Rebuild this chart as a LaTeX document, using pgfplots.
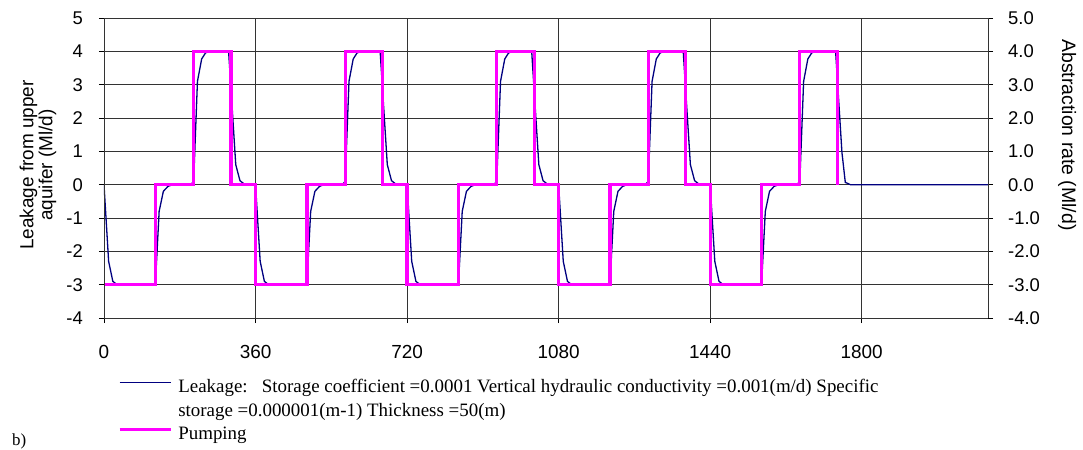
\documentclass[border=0pt]{standalone}
\usepackage{pgfplots}
\pgfplotsset{compat=1.18}
\usepackage{fontspec}
\setmainfont{Liberation Sans}
\newfontfamily\timesfont{Liberation Serif}
\definecolor{leak}{RGB}{0,0,128}
\definecolor{pump}{RGB}{255,0,255}
\begin{document}
\begin{tikzpicture}
\begin{axis}[
  at={(0,0)}, anchor=south west,
  width=884bp, height=300bp, scale only axis,
  xmin=0, xmax=2100, ymin=-4, ymax=5,
  xtick={0,360,720,1080,1440,1800},
  ytick={-4,-3,-2,-1,0,1,2,3,4,5},
  xtick pos=left, ytick pos=left,
  tick align=outside, major tick length=5bp,
  grid=major,
  major grid style={black!80, line width=0.8bp},
  axis line style={black!80, line width=0.9bp},
  tick style={black, line width=0.8bp},
  /pgf/number format/assume math mode=true,
  /pgf/number format/1000 sep={},
  xticklabel style={font=\fontsize{19}{22}\selectfont, anchor=center, inner sep=0pt, yshift=-28.5bp},
  yticklabel style={font=\fontsize{18.5}{22}\selectfont, anchor=east, inner sep=0pt, xshift=-16bp},
  ylabel={Leakage from upper\\aquifer (Ml/d)},
  ylabel style={at={(axis description cs:-0.0747,0.51)}, anchor=center, align=center,
    font=\fontsize{19}{19}\selectfont},
  legend image code/.code={\draw[#1] (0bp,6bp) -- (51bp,6bp);},
  legend style={at={(axis description cs:0.01584,-0.2025)}, anchor=north west,
    draw=none, fill=none, inner sep=0pt, outer sep=0pt,
    row sep=4.5bp, column sep=6bp,
    nodes={inner sep=0pt, text height=14bp, text depth=5bp},
    font=\timesfont\fontsize{19}{23}\selectfont},
  legend cell align=left,
]
\addplot[leak, line width=1.3bp] coordinates {
(0,0) (11,-2.3) (21,-2.9) (31,-3) (122,-3) (131,-0.8) (141,-0.2) (152,-0.05) (163,0) (206,0) (213,0.1) (222,3.1) (232,3.77) (241,3.95) (250,4) (296,4) (313,0.6) (323,0.12) (333,0.02) (345,0)
(360,0) (371,-2.3) (381,-2.9) (391,-3) (482,-3) (491,-0.8) (501,-0.2) (512,-0.05) (523,0) (566,0) (573,0.1) (582,3.1) (592,3.77) (601,3.95) (610,4) (656,4) (673,0.6) (683,0.12) (693,0.02) (705,0)
(720,0) (731,-2.3) (741,-2.9) (751,-3) (842,-3) (851,-0.8) (861,-0.2) (872,-0.05) (883,0) (926,0) (933,0.1) (942,3.1) (952,3.77) (961,3.95) (970,4) (1016,4) (1033,0.6) (1043,0.12) (1053,0.02) (1065,0)
(1080,0) (1091,-2.3) (1101,-2.9) (1111,-3) (1202,-3) (1211,-0.8) (1221,-0.2) (1232,-0.05) (1243,0) (1286,0) (1293,0.1) (1302,3.1) (1312,3.77) (1321,3.95) (1330,4) (1376,4) (1393,0.6) (1403,0.12) (1413,0.02) (1425,0)
(1440,0) (1451,-2.3) (1461,-2.9) (1471,-3) (1562,-3) (1571,-0.8) (1581,-0.2) (1592,-0.05) (1603,0) (1646,0) (1653,0.1) (1662,3.1) (1672,3.77) (1681,3.95) (1690,4) (1738,4) (1753,0.97) (1761,0.07) (1773,0) (2100,0)
};
\addlegendentry{Leakage:\ \ \ Storage coefficient =0.0001 Vertical hydraulic conductivity =0.001(m/d) Specific}
\addlegendimage{empty legend}
\addlegendentry{storage =0.000001(m-1) Thickness =50(m)}
\addplot[pump, line width=3.3bp, line join=miter] coordinates {
(0,-3) (122,-3) (122,0) (213,0) (213,4) (302,4) (302,0) (360,0)
(360,-3) (482,-3) (482,0) (573,0) (573,4) (662,4) (662,0) (720,0)
(720,-3) (842,-3) (842,0) (933,0) (933,4) (1022,4) (1022,0) (1080,0)
(1080,-3) (1202,-3) (1202,0) (1293,0) (1293,4) (1382,4) (1382,0) (1440,0)
(1440,-3) (1562,-3) (1562,0) (1653,0) (1653,4) (1742,4) (1742,0)
};
\addlegendentry{Pumping}
\end{axis}
\begin{axis}[
  at={(0,0)}, anchor=south west,
  width=884bp, height=300bp, scale only axis,
  xmin=0, xmax=2100, ymin=-4, ymax=5,
  hide x axis,
  ytick={-4,-3,-2,-1,0,1,2,3,4,5},
  ytick pos=right, yticklabel pos=right,
  tick align=outside, major tick length=5bp,
  axis line style={black!80, line width=0.9bp},
  tick style={black, line width=0.8bp},
  /pgf/number format/assume math mode=true,
  yticklabel={\pgfmathprintnumber[fixed,fixed zerofill,precision=1]{\tick}},
  yticklabel style={font=\fontsize{18.5}{22}\selectfont, anchor=west, inner sep=0pt, xshift=15bp},
  ylabel={Abstraction rate (Ml/d)},
  ylabel style={at={(axis description cs:1.0894,0.61)}, anchor=center, rotate=180,
    font=\fontsize{19.5}{22}\selectfont},
]
\addplot[draw=none] coordinates {(0,0)};
\end{axis}
\node[anchor=base west, inner sep=0pt, font=\timesfont\fontsize{17}{20}\selectfont] at (-92bp,-127.5bp) {b)};
\pgfresetboundingbox
\path[use as bounding box] (-104bp,-132bp) rectangle (979bp,318bp);
\end{tikzpicture}
\end{document}
